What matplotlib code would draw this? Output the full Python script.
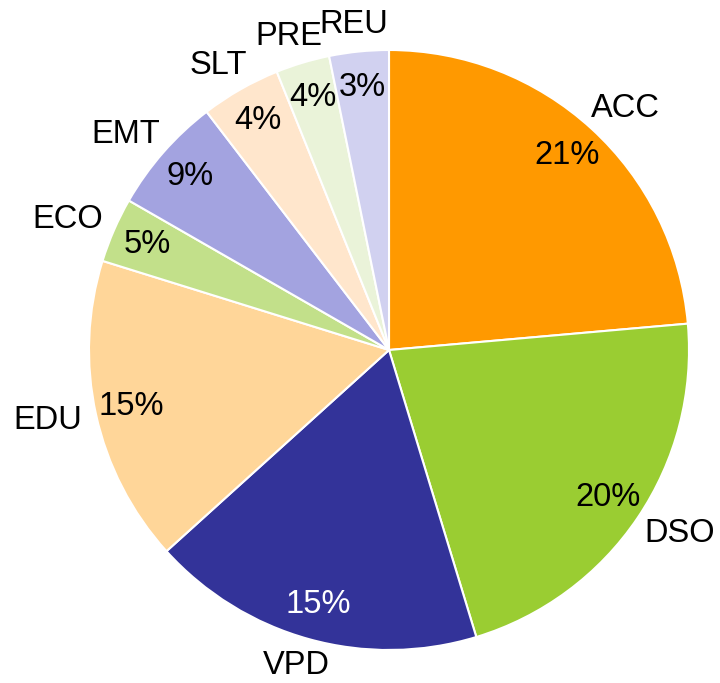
import matplotlib
matplotlib.use("Agg")
import matplotlib.pyplot as plt
import numpy as np

# slice sizes (degrees / 3.6), labels as printed on the chart
categories = ["ACC", "DSO", "VPD", "EDU", "ECO", "EMT", "SLT", "PRE", "REU"]
sizes = [23.6, 21.7, 18.0, 16.5, 3.5, 6.3, 4.3, 2.9, 3.2]
pct_labels = ["21%", "20%", "15%", "15%", "5%", "9%", "4%", "4%", "3%"]
colors = ["#FF9900", "#9ACD32", "#333399", "#FFD699", "#C2E08A",
          "#A3A3E0", "#FFE6CC", "#EAF3D9", "#D1D1F0"]
pct_colors = ["black", "black", "white", "black", "black",
              "black", "black", "black", "black"]

plt.rcParams['font.family'] = ['Liberation Sans', 'DejaVu Sans']
FS = 23.5
R_PX = 300.0

fig = plt.figure(figsize=(7.2, 6.83), dpi=100)
ax = fig.add_axes([0, 0, 1, 1])

wedges, texts = ax.pie(sizes, labels=categories, colors=colors, startangle=90,
                       counterclock=False, labeldistance=1.05,
                       wedgeprops=dict(edgecolor="white", linewidth=1.5),
                       textprops=dict(fontsize=FS))

# percentage labels inside the slices (they are custom text, not computed)
for w, txt, col in zip(wedges, pct_labels, pct_colors):
    ang = np.deg2rad((w.theta1 + w.theta2) / 2)
    ax.text(0.88 * np.cos(ang), 0.88 * np.sin(ang), txt, ha="center", va="center",
            fontsize=FS, color=col)

# center at (389, 350) px with radius 300 px
ax.set_xlim(-389 / R_PX, (720 - 389) / R_PX)
ax.set_ylim(-333 / R_PX, 350 / R_PX)
ax.set_aspect("equal")
ax.axis("off")

# push the category labels outward so their near edge sits just off the rim
renderer = fig.canvas.get_renderer()
for w, t in zip(wedges, texts):
    t.set_ha("center")
    t.set_va("center")
    ang = np.deg2rad((w.theta1 + w.theta2) / 2)
    bb = t.get_window_extent(renderer)
    x, y = t.get_position()
    x += (bb.width / 2 * np.cos(ang)) / R_PX
    y += (bb.height / 2 * 0.8 * np.sin(ang)) / R_PX
    t.set_position((x, y))

fig.savefig("out.png", dpi=100)
